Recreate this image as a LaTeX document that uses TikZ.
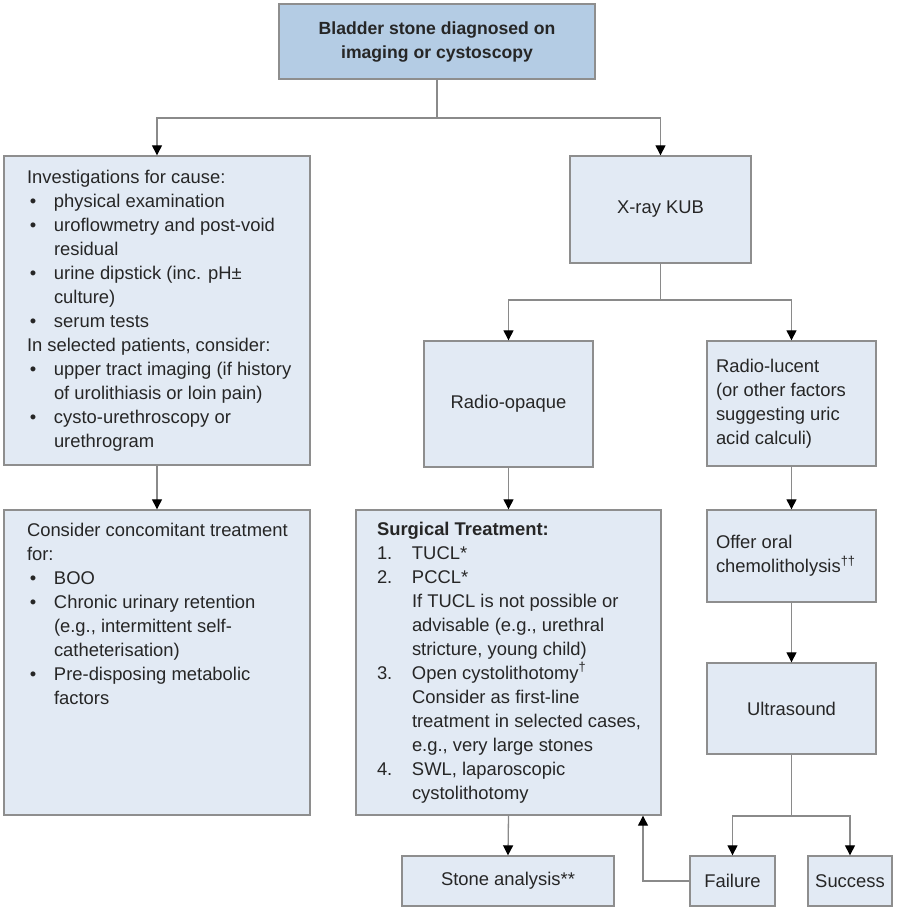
\documentclass[tikz,border=0pt]{standalone}
\usepackage{fontspec}
\setmainfont{Liberation Sans}
\usetikzlibrary{arrows.meta}

\definecolor{boxfill}{HTML}{E2EAF4}
\definecolor{topfill}{HTML}{B4CCE4}
\definecolor{boxline}{HTML}{8E8E8E}
\definecolor{linkgray}{HTML}{8A8A8A}
\definecolor{ink}{HTML}{262626}

\newcommand{\bulitem}{\makebox[13.5pt][l]{\hspace{1.5pt}\textbullet}}
\newcommand{\bulgap}{\hspace*{13.5pt}}
\newcommand{\numitem}[1]{\makebox[17.5pt][l]{#1}}
\newcommand{\numgap}{\hspace*{17.5pt}}
\newcommand{\boxtext}[2]{\makebox[#1][l]{\begin{tabular}{@{}l@{}}#2\end{tabular}}}

\tikzset{
  box/.style={draw=boxline, line width=0.7pt, fill=boxfill, text=ink, inner sep=0pt,
    font=\fontsize{9.2pt}{12pt}\selectfont},
  link/.style={draw=linkgray, line width=0.65pt},
  arr/.style={link, -{Triangle[width=5pt,length=5pt,color=black]}}
}

\begin{document}
\begin{tikzpicture}[x=0.5pt,y=-0.5pt]
\useasboundingbox (0,0) rectangle (900,911);

\node (diag) at (437,41.5) [box, fill=topfill, minimum width=158pt, minimum height=37.5pt, align=center,
  font=\bfseries\fontsize{8.8pt}{12pt}\selectfont] {Bladder stone diagnosed on\\imaging or cystoscopy};

\node (invest) at (157,310.5) [box, minimum width=153pt, minimum height=154.5pt, inner xsep=11.5pt]
  {\boxtext{130pt}{Investigations for cause:\\ \bulitem physical examination\\ \bulitem uroflowmetry and post-void\\
  \bulgap residual\\ \bulitem urine dipstick (inc. pH±\\ \bulgap culture)\\ \bulitem serum tests\\
  In selected patients, consider:\\ \bulitem upper tract imaging (if history\\ \bulgap of urolithiasis or loin pain)\\
  \bulitem cysto-urethroscopy or\\ \bulgap urethrogram}};
\node (xray) at (660.5,209.5) [box, minimum width=90.5pt, minimum height=53.5pt] {X-ray KUB};
\node (opaque) at (508.5,404) [box, minimum width=84.5pt, minimum height=63pt] {Radio-opaque};
\node (lucent) at (791.5,403.5) [box, minimum width=84.5pt, minimum height=62.5pt, inner xsep=4.5pt]
  {\boxtext{75.5pt}{Radio-lucent\\(or other factors\\suggesting uric\\acid calculi)}};

\node (concom) at (157,662.5) [box, minimum width=153pt, minimum height=152.5pt, inner xsep=11.5pt]
  {\parbox[c][152.5pt][t]{130pt}{\vspace*{4.75pt}\boxtext{130pt}{Consider concomitant treatment\\for:\\
  \bulitem BOO\\ \bulitem Chronic urinary retention\\ \bulgap (e.g., intermittent self-\\ \bulgap catheterisation)\\
  \bulitem Pre-disposing metabolic\\ \bulgap factors}}};
\node (surgery) at (508.5,662.5) [box, minimum width=152.5pt, minimum height=152.5pt, inner xsep=10.5pt]
  {\boxtext{131.5pt}{\textbf{Surgical Treatment:}\\ \numitem{1.}TUCL*\\ \numitem{2.}PCCL*\\
  \numgap If TUCL is not possible or\\ \numgap advisable (e.g., urethral\\ \numgap stricture, young child)\\
  \numitem{3.}Open cystolithotomy\textsuperscript{†}\\ \numgap Consider as first-line\\
  \numgap treatment in selected cases,\\ \numgap e.g., very large stones\\ \numitem{4.}SWL, laparoscopic\\
  \numgap cystolithotomy}};
\node (chemo) at (791.5,556) [box, minimum width=84.5pt, minimum height=46pt, inner xsep=4.5pt]
  {\boxtext{75.5pt}{Offer oral\\chemolitholysis\textsuperscript{††}}};
\node (ultra) at (791.5,708.5) [box, minimum width=84.5pt, minimum height=45.5pt] {Ultrasound};

\node (analysis) at (508,881) [box, minimum width=106pt, minimum height=25pt] {Stone analysis**};
\node (failure) at (732.5,881) [box, minimum width=42.5pt, minimum height=25pt] {Failure};
\node (success) at (850,881) [box, minimum width=42pt, minimum height=25pt] {Success};

\coordinate (split1) at (437,118);
\coordinate (split2) at (660.5,300);
\coordinate (split3) at (791.5,816);

\draw[link] (diag.south) -- (split1);
\draw[arr] (split1) -| (invest.north);
\draw[arr] (split1) -| (xray.north);
\draw[link] (xray.south) -- (split2);
\draw[arr] (split2) -| (opaque.north);
\draw[arr] (split2) -| (lucent.north);
\draw[arr] (invest) -- (concom);
\draw[arr] (opaque) -- (surgery);
\draw[arr] (lucent) -- (chemo);
\draw[arr] (chemo) -- (ultra);
\draw[link] (ultra.south) -- (split3);
\draw[arr] (split3) -| (failure.north);
\draw[arr] (split3) -| (success.north);
\draw[arr] (surgery.south) -- (analysis.north);
\draw[arr] (failure.west) -| ([xshift=67.25pt]surgery.south);
\end{tikzpicture}
\end{document}
